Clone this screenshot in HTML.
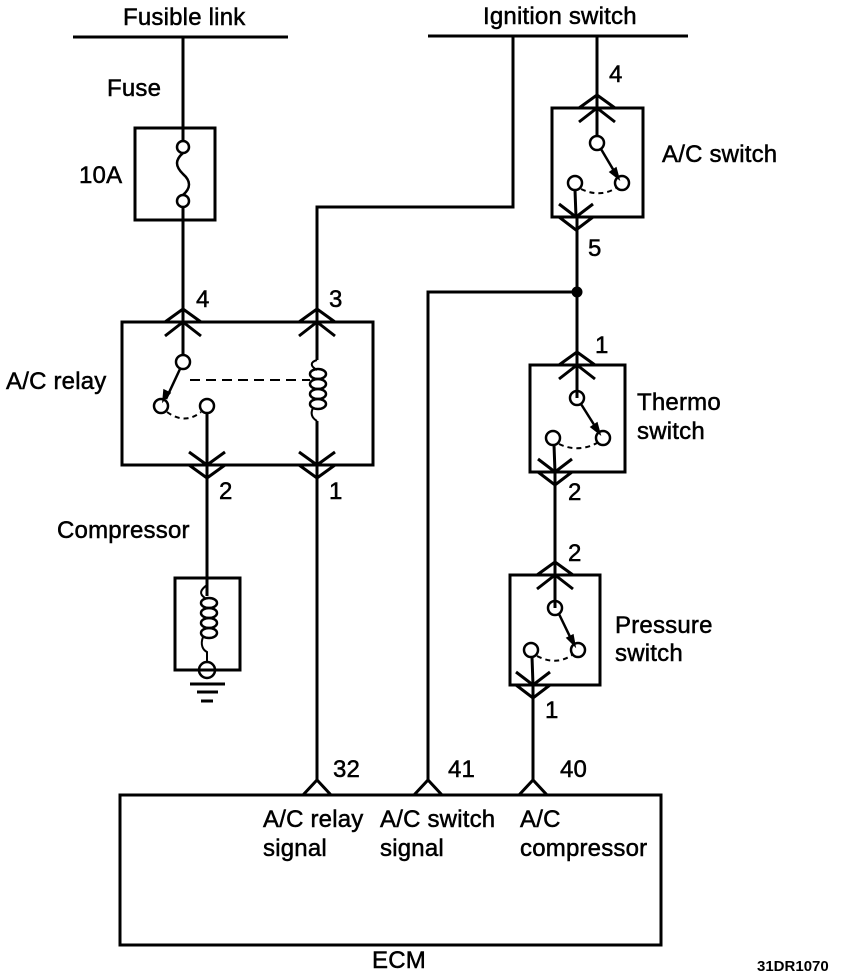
<!DOCTYPE html>
<html><head><meta charset="utf-8"><style>
html,body{margin:0;padding:0;background:#fff;}
svg{display:block;}
text{font-family:"Liberation Sans",sans-serif;font-size:24px;fill:#000;stroke:#000;stroke-width:0.5px;letter-spacing:0.2px;}
</style></head><body>
<svg width="848" height="976" viewBox="0 0 848 976" xmlns="http://www.w3.org/2000/svg">
<g stroke="#000" stroke-width="3" fill="none" stroke-linecap="butt">
<line x1="73" y1="37" x2="288" y2="37"/>
<line x1="428" y1="36" x2="688" y2="36"/>
<line x1="183" y1="37" x2="183" y2="141"/>
<rect x="135" y="128" width="80" height="92"/>
<circle cx="183" cy="147" r="6" stroke-width="2.5"/>
<circle cx="183" cy="201" r="6" stroke-width="2.5"/>
<path d="M183 153 C175 160,175 166,183 174 C191 181,191 188,183 195" stroke-width="2.5"/>
<line x1="183" y1="207" x2="183" y2="355"/>
<polyline points="513,36 513,207 317,207 317,360"/>
<rect x="122" y="322" width="251" height="143"/>
<polyline points="165,322 183,309 201,322"/>
<polyline points="165,336 183,322 201,336"/>
<polyline points="299,322 317,309 335,322"/>
<polyline points="299,336 317,322 335,336"/>
<circle cx="183" cy="362" r="7" stroke-width="2.5"/>
<line x1="180" y1="369" x2="166" y2="399" stroke-width="2.5"/>
<polygon points="163,401 164,390 170,393" fill="#000" stroke-width="1.5"/>
<circle cx="161" cy="406" r="7" stroke-width="2.5"/>
<circle cx="207" cy="406" r="7" stroke-width="2.5"/>
<path d="M167 412 Q185 425 201 412" stroke-dasharray="5,4" stroke-width="2"/>
<line x1="190" y1="380" x2="310" y2="380" stroke-dasharray="10,6" stroke-width="2"/>
<path d="M317 360 C310 362,310 366,317 370" stroke-width="2"/>
<ellipse cx="318" cy="374" rx="8" ry="5" stroke-width="2.5"/>
<ellipse cx="318" cy="384" rx="8" ry="5" stroke-width="2.5"/>
<ellipse cx="318" cy="394" rx="8" ry="5" stroke-width="2.5"/>
<ellipse cx="318" cy="404" rx="8" ry="5" stroke-width="2.5"/>
<path d="M313 408 C310 414,312 418,317 421" stroke-width="2"/>
<line x1="317" y1="421" x2="317" y2="780"/>
<line x1="207" y1="413" x2="207" y2="596"/>
<polyline points="189,452 207,465 225,452"/>
<polyline points="189,465 207,478 225,465"/>
<polyline points="299,452 317,465 335,452"/>
<polyline points="299,465 317,478 335,465"/>
<rect x="175" y="578" width="65" height="92"/>
<path d="M207 585 C200 590,199 594,205 598" stroke-width="2"/>
<ellipse cx="209" cy="603" rx="8" ry="5" stroke-width="2.5"/>
<ellipse cx="209" cy="613" rx="8" ry="5" stroke-width="2.5"/>
<ellipse cx="209" cy="623" rx="8" ry="5" stroke-width="2.5"/>
<ellipse cx="209" cy="633" rx="8" ry="5" stroke-width="2.5"/>
<path d="M203 637 C200 645,203 650,207 652 L207 662" stroke-width="2"/>
<circle cx="207" cy="670" r="8" stroke-width="2.5"/>
<line x1="190" y1="684" x2="225" y2="684"/>
<line x1="197" y1="692" x2="218" y2="692"/>
<line x1="201" y1="701" x2="213" y2="701"/>
<line x1="597" y1="36" x2="597" y2="136"/>
<rect x="552" y="108" width="91" height="109"/>
<polyline points="579,108 597,95 615,108"/>
<polyline points="579,122 597,108 615,122"/>
<circle cx="597" cy="143" r="7" stroke-width="2.5"/>
<line x1="601" y1="149" x2="617" y2="176" stroke-width="2.5"/>
<polygon points="619,179 610,172 616,168" fill="#000" stroke-width="1.5"/>
<circle cx="622" cy="183" r="7" stroke-width="2.5"/>
<circle cx="575" cy="183" r="7" stroke-width="2.5"/>
<path d="M581 189 Q600 198 616 188" stroke-dasharray="5,4" stroke-width="2"/>
<polyline points="575,190 576,217 577,217 577,398"/>
<polyline points="559,204 576,217 593,204"/>
<polyline points="559,217 576,230 593,217"/>
<circle cx="577" cy="292" r="4" fill="#000"/>
<polyline points="577,292 428,292 428,780"/>
<rect x="530" y="365" width="95" height="107"/>
<polyline points="559,365 577,352 595,365"/>
<polyline points="559,379 577,365 595,379"/>
<circle cx="577" cy="398" r="7" stroke-width="2.5"/>
<line x1="581" y1="404" x2="598" y2="431" stroke-width="2.5"/>
<polygon points="600,434 591,427 597,423" fill="#000" stroke-width="1.5"/>
<circle cx="603" cy="438" r="7" stroke-width="2.5"/>
<circle cx="553" cy="438" r="7" stroke-width="2.5"/>
<path d="M559 444 Q578 453 597 443" stroke-dasharray="5,4" stroke-width="2"/>
<polyline points="554,445 555,472 555,608"/>
<polyline points="538,459 555,472 572,459"/>
<polyline points="538,472 555,485 572,472"/>
<rect x="510" y="575" width="90" height="110"/>
<polyline points="537,575 555,562 573,575"/>
<polyline points="537,589 555,575 573,589"/>
<circle cx="555" cy="608" r="7" stroke-width="2.5"/>
<line x1="559" y1="614" x2="573" y2="643" stroke-width="2.5"/>
<polygon points="575,646 567,638 573,635" fill="#000" stroke-width="1.5"/>
<circle cx="578" cy="650" r="7" stroke-width="2.5"/>
<circle cx="531" cy="650" r="7" stroke-width="2.5"/>
<path d="M537 656 Q556 666 572 655" stroke-dasharray="5,4" stroke-width="2"/>
<polyline points="532,657 533,685 533,780"/>
<polyline points="516,672 533,685 550,672"/>
<polyline points="516,685 533,698 550,685"/>
<rect x="120" y="795" width="541" height="150"/>
<polyline points="303,795 317,780 331,795"/>
<polyline points="414,795 428,780 442,795"/>
<polyline points="519,795 533,780 547,795"/>
</g>
<text x="123" y="25">Fusible link</text>
<text x="483" y="24">Ignition switch</text>
<text x="107" y="96">Fuse</text>
<text x="79" y="183">10A</text>
<text x="6" y="389">A/C relay</text>
<text x="57" y="538">Compressor</text>
<text x="196" y="307">4</text>
<text x="329" y="307">3</text>
<text x="219" y="499">2</text>
<text x="329" y="499">1</text>
<text x="609" y="82">4</text>
<text x="588" y="256">5</text>
<text x="662" y="162">A/C switch</text>
<text x="595" y="353">1</text>
<text x="568" y="500">2</text>
<text x="637" y="410">Thermo</text>
<text x="637" y="439">switch</text>
<text x="568" y="561">2</text>
<text x="545" y="718">1</text>
<text x="615" y="633">Pressure</text>
<text x="615" y="661">switch</text>
<text x="333" y="777">32</text>
<text x="448" y="777">41</text>
<text x="560" y="777">40</text>
<text x="263" y="827">A/C relay</text>
<text x="263" y="856">signal</text>
<text x="380" y="827">A/C switch</text>
<text x="380" y="856">signal</text>
<text x="520" y="827">A/C</text>
<text x="520" y="856">compressor</text>
<text x="372" y="968">ECM</text>
<text x="757" y="971" style="font-size:15px;font-weight:bold;stroke-width:0;letter-spacing:0">31DR1070</text>
</svg>
</body></html>
